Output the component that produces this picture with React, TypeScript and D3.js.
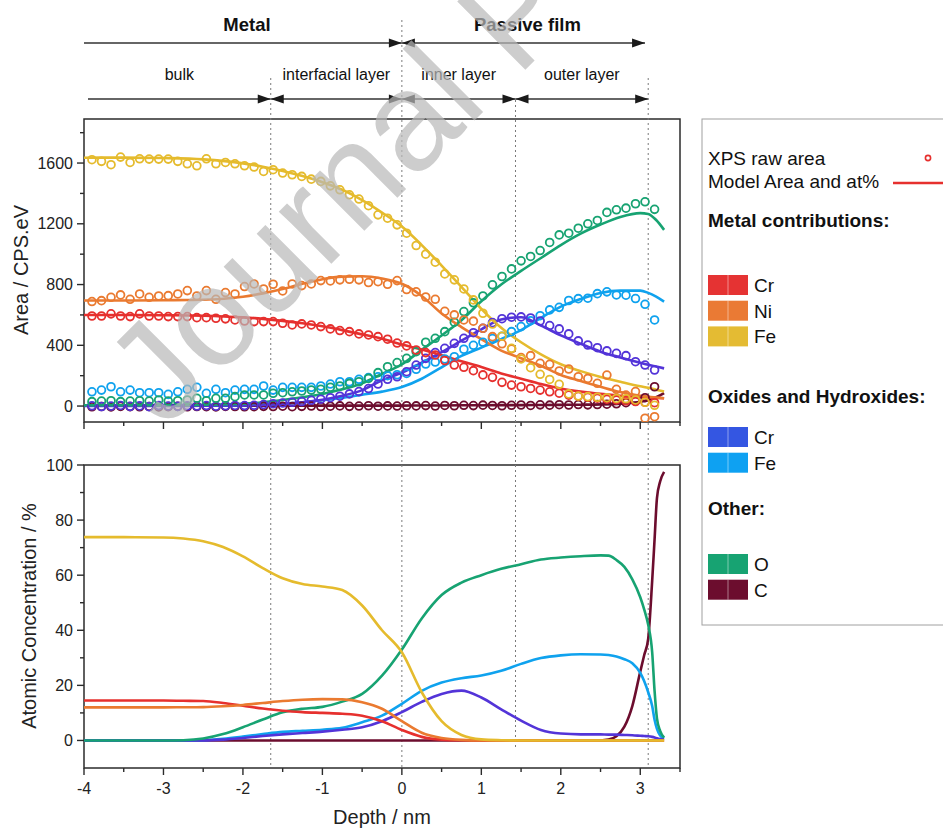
import React from 'react';
import * as d3 from 'd3';

// raw XPS areas, one point every 0.12 nm
const rawDepth = [
  -3.9, -3.78, -3.66, -3.54, -3.42, -3.3, -3.18, -3.06, -2.94, -2.82, -2.7, -2.58, -2.46, -2.34, -2.22,
  -2.1, -1.98, -1.86, -1.74, -1.62, -1.5, -1.38, -1.26, -1.14, -1.02, -0.9, -0.78, -0.66, -0.54, -0.42,
  -0.3, -0.18, -0.06, 0.06, 0.18, 0.3, 0.42, 0.54, 0.66, 0.78, 0.9, 1.02, 1.14, 1.26, 1.38,
  1.5, 1.62, 1.74, 1.86, 1.98, 2.1, 2.22, 2.34, 2.46, 2.58, 2.7, 2.82, 2.94, 3.06, 3.18,
];
const rawCrMetal = [
  593, 593, 607, 593, 589, 607, 593, 593, 589, 589, 589, 582, 582, 578, 574,
  567, 560, 556, 556, 556, 545, 534, 541, 534, 523, 508, 497, 490, 475, 468,
  457, 440, 415, 396, 369, 352, 336, 300, 270, 255, 233, 205, 189, 156, 138,
  127, 116, 105, 94, 85, 72, 65, 58, 52, 45, 40, 35, 30, 25, 22,
];
const rawNiMetal = [
  688, 694, 716, 732, 703, 738, 716, 725, 727, 738, 760, 725, 760, 703, 747,
  738, 787, 804, 771, 802, 758, 804, 793, 804, 826, 824, 831, 835, 831, 813,
  819, 802, 826, 767, 752, 718, 703, 624, 600, 567, 559, 512, 457, 410, 376,
  319, 332, 281, 275, 231, 244, 193, 182, 150, 204, 110, 72, 95, -80, -70,
];
const rawFeMetal = [
  1622, 1611, 1589, 1639, 1604, 1628, 1626, 1626, 1626, 1611, 1595, 1582, 1628, 1595, 1604,
  1595, 1582, 1574, 1545, 1556, 1534, 1523, 1512, 1494, 1479, 1450, 1424, 1391, 1363, 1319,
  1259, 1237, 1193, 1138, 1057, 1000, 947, 870, 831, 771, 699, 611, 540, 460, 380,
  310, 253, 209, 175, 143, 80, 66, 62, 58, 55, 50, 48, 40, 25, 5,
];
const rawCrOx = [
  2, -3, 0, 4, -2, 1, -4, 3, 0, -2, 2, 0, 3, -1, 2,
  4, 3, 5, 10, 15, 20, 25, 30, 38, 45, 55, 65, 80, 95, 115,
  145, 176, 193, 226, 270, 314, 352, 380, 413, 446, 483, 512, 549, 575, 585,
  587, 580, 560, 530, 508, 475, 429, 402, 384, 363, 347, 332, 292, 270, 237,
];
const rawFeOx = [
  94, 105, 127, 94, 105, 88, 88, 88, 77, 94, 110, 123, 84, 110, 88,
  105, 110, 110, 132, 105, 123, 123, 123, 123, 132, 145, 160, 160, 176, 187,
  193, 200, 206, 215, 242, 277, 290, 310, 325, 374, 400, 420, 445, 460, 490,
  523, 562, 595, 633, 650, 695, 707, 710, 740, 752, 732, 730, 708, 670, 567,
];
const rawO = [
  29, 33, 35, 29, 33, 35, 33, 40, 33, 35, 40, 51, 35, 51, 51,
  62, 73, 73, 73, 84, 88, 94, 99, 105, 110, 123, 132, 149, 160, 182,
  220, 259, 286, 314, 358, 420, 446, 490, 552, 622, 680, 725, 798, 853, 903,
  956, 985, 1024, 1077, 1127, 1138, 1171, 1200, 1222, 1275, 1292, 1303, 1332, 1345, 1295,
];
const rawC = [
  -5, -3, -6, -2, -4, -5, -3, -6, -4, -2, -5, -3, -4, -6, -2,
  -3, -5, -4, -2, -3, -1, -4, -2, 0, -3, -1, 1, -2, 0, 2,
  -1, 1, 0, 2, 1, 3, 0, 4, 2, 5, 3, 6, 4, 2, 5,
  7, 4, 8, 6, 9, 7, 10, 8, 10, 12, 15, 22, 32, 55, 127,
];

// model areas
const modelDepth = [-4, -3.5, -3, -2.5, -2, -1.75, -1.5, -1.25, -1, -0.75, -0.5, -0.25, 0, 0.25, 0.5, 0.75, 1, 1.25, 1.5, 1.75, 2, 2.25, 2.5, 2.75, 3, 3.1, 3.2, 3.3];
const modelCrMetal = [600, 600, 598, 595, 584, 574, 561, 545, 525, 500, 472, 443, 405, 372, 335, 295, 257, 215, 180, 145, 115, 95, 80, 68, 60, 57, 54, 51];
const modelNiMetal = [695, 695, 697, 700, 720, 742, 770, 805, 835, 852, 855, 840, 805, 725, 610, 520, 440, 365, 315, 265, 205, 165, 127, 92, 68, 62, 56, 51];
const modelFeMetal = [1635, 1636, 1633, 1624, 1598, 1576, 1548, 1514, 1474, 1424, 1356, 1274, 1182, 1060, 925, 785, 640, 515, 420, 340, 275, 230, 192, 160, 130, 120, 108, 96];
const modelCrOx = [0, 0, 1, 2, 5, 8, 15, 25, 42, 68, 105, 170, 220, 285, 355, 430, 505, 570, 585, 530, 465, 410, 358, 320, 285, 272, 260, 248];
const modelFeOx = [2, 2, 2, 3, 6, 10, 16, 25, 38, 55, 75, 95, 125, 180, 255, 330, 385, 440, 500, 580, 655, 705, 745, 760, 760, 745, 720, 688];
const modelO = [5, 5, 6, 8, 15, 25, 40, 58, 80, 110, 150, 212, 275, 370, 465, 565, 690, 800, 890, 975, 1060, 1135, 1195, 1245, 1270, 1265, 1225, 1160];
const modelC = [2, 2, 2, 2, 2, 2, 2, 2, 3, 3, 3, 3, 3, 4, 4, 5, 5, 6, 6, 7, 8, 9, 11, 16, 28, 40, 58, 85];

// atomic concentration (at%)
const concDepth = [-4, -3.5, -3, -2.75, -2.5, -2.25, -2, -1.75, -1.5, -1.25, -1, -0.75, -0.5, -0.25, 0, 0.25, 0.5, 0.75, 1, 1.25, 1.5, 1.75, 2, 2.25, 2.5, 2.6, 2.7, 2.8, 2.9, 3, 3.05, 3.1, 3.15, 3.18, 3.21, 3.25, 3.3];
const concCrMetal = [14.5, 14.5, 14.5, 14.4, 14.3, 13.6, 12.6, 11.6, 10.8, 10.3, 10, 9.7, 9, 7, 3.8, 1.3, 0.3, 0.05, 0, 0, 0, 0, 0, 0, 0, 0, 0, 0, 0, 0, 0, 0, 0, 0, 0, 0, 0];
const concNiMetal = [12, 12, 12, 12.05, 12.1, 12.4, 12.9, 13.6, 14.3, 14.8, 15, 14.9, 13.9, 11.5, 7, 2.8, 0.9, 0.2, 0, 0, 0, 0, 0, 0, 0, 0, 0, 0, 0, 0, 0, 0, 0, 0, 0, 0, 0];
const concFeMetal = [73.8, 73.8, 73.7, 73.3, 72.3, 70.2, 66.8, 62.6, 58.9, 56.8, 55.9, 54.6, 49, 40, 32, 17.5, 7, 2, 0.4, 0.1, 0, 0, 0, 0, 0, 0, 0, 0, 0, 0, 0, 0, 0, 0, 0, 0, 0];
const concCrOx = [0, 0, 0, 0, 0, 0.3, 0.9, 1.6, 2.2, 2.7, 3.2, 3.9, 4.8, 7, 10.3, 14, 16.9, 18.1, 15.6, 11.3, 7.2, 3.8, 2.5, 2.2, 2.2, 2.1, 2.1, 2, 1.9, 1.7, 1.6, 1.5, 1.3, 1.1, 0.8, 0.5, 0.3];
const concFeOx = [0, 0, 0, 0, 0.1, 0.6, 1.4, 2.3, 3.1, 3.5, 3.9, 4.6, 6.6, 9, 13.3, 18, 21, 22.6, 23.6, 25.3, 27.8, 29.9, 30.9, 31.3, 31.2, 31, 30.5, 29.5, 28, 24.5, 21.5, 17.5, 12.5, 7.5, 4.2, 1.8, 0.8];
const concO = [0, 0, 0, 0.1, 0.7, 2.3, 4.8, 7.6, 10.2, 11.5, 12.2, 14.1, 16.9, 23.5, 33, 44.3, 52.8, 57.3, 60, 62.3, 64, 65.7, 66.4, 66.9, 67.2, 67.1, 65.5, 63, 58.5, 52, 47.5, 42, 32, 18, 8, 3.5, 1];
const concC = [0, 0, 0, 0, 0, 0, 0, 0, 0, 0, 0, 0, 0, 0, 0, 0, 0, 0, 0, 0, 0, 0, 0, 0, 0, 0.3, 1.5, 5, 12.5, 25, 31, 37, 58, 73, 88, 94, 97.5];

const xTicks = [-4, -3, -2, -1, 0, 1, 2, 3];
const xMinor = [-3.5, -2.5, -1.5, -0.5, 0.5, 1.5, 2.5, 3.5];
const areaTicks = [0, 400, 800, 1200, 1600];
const areaMinor = [200, 600, 1000, 1400, 1800];
const concTicks = [0, 20, 40, 60, 80, 100];
const concMinor = [10, 30, 50, 70, 90];

// layer boundaries (nm) and header arrows
const layerBounds = [-1.65, 0, 1.43, 3.1];
const zones = [
  { label: 'Metal', from: -4, to: 0, row: 0, headL: false },
  { label: 'Passive film', from: 0, to: 3.06, row: 0, headL: true },
  { label: 'bulk', from: -3.95, to: -1.65, row: 1, headL: false },
  { label: 'interfacial layer', from: -1.65, to: 0, row: 1, headL: true },
  { label: 'inner layer', from: 0, to: 1.43, row: 1, headL: true },
  { label: 'outer layer', from: 1.43, to: 3.1, row: 1, headL: true },
];

const series = [
  { key: 'C', label: 'C', color: '#6c0d2e', swatch: '#6c0d2e', raw: rawC, model: modelC, conc: concC },
  { key: 'FeOx', label: 'Fe', color: '#0fa2ee', swatch: '#0ea1f2', raw: rawFeOx, model: modelFeOx, conc: concFeOx },
  { key: 'CrOx', label: 'Cr', color: '#5334d8', swatch: '#3456e2', raw: rawCrOx, model: modelCrOx, conc: concCrOx },
  { key: 'O', label: 'O', color: '#17a372', swatch: '#17a372', raw: rawO, model: modelO, conc: concO },
  { key: 'Cr', label: 'Cr', color: '#e6302e', swatch: '#e53333', raw: rawCrMetal, model: modelCrMetal, conc: concCrMetal },
  { key: 'Ni', label: 'Ni', color: '#ea7a30', swatch: '#ea7a34', raw: rawNiMetal, model: modelNiMetal, conc: concNiMetal },
  { key: 'Fe', label: 'Fe', color: '#e5bb2d', swatch: '#e4bb33', raw: rawFeMetal, model: modelFeMetal, conc: concFeMetal },
];

const legendGroups = [
  { title: 'Metal contributions:', titleY: 227, keys: ['Cr', 'Ni', 'Fe'], top: 275 },
  { title: 'Oxides and Hydroxides:', titleY: 403, keys: ['CrOx', 'FeOx'], top: 427 },
  { title: 'Other:', titleY: 515, keys: ['O', 'C'], top: 554 },
];

const FONT = "'Liberation Sans', Arial, Helvetica, sans-serif";
const AXIS = '#2b2b2b';

const Arrow = ({ x1, x2, y, headL, headR }: any) => {
  const L = 13, h = 4.6;
  return (
    <g fill="#1a1a1a">
      <line x1={x1} x2={x2} y1={y} y2={y} stroke="#333" strokeWidth={1.4} />
      {headR && <polygon points={`${x2},${y} ${x2 - L},${y - h} ${x2 - L},${y + h}`} />}
      {headL && <polygon points={`${x1},${y} ${x1 + L},${y - h} ${x1 + L},${y + h}`} />}
    </g>
  );
};

export default function App() {
  const left = 84, right = 680;
  const x = d3.scaleLinear().domain([-4, 3.5]).range([left, right]);
  const yA = d3.scaleLinear().domain([-105, 1890]).range([422, 119]);
  const yC = d3.scaleLinear().domain([-10, 100]).range([768, 465]);

  const modelLine = d3.line<number>()
    .x((_, i) => x(modelDepth[i]))
    .y((d) => yA(d))
    .curve(d3.curveMonotoneX);
  const concLine = d3.line<number>()
    .x((_, i) => x(concDepth[i]))
    .y((d) => yC(d))
    .curve(d3.curveMonotoneX);

  const byKey: any = {};
  series.forEach((s) => (byKey[s.key] = s));

  const panel = (top: number, bottom: number, y: any, ticks: number[], minor: number[], showX: boolean) => (
    <g>
      <rect x={left} y={top} width={right - left} height={bottom - top} fill="none" stroke={AXIS} strokeWidth={1.5} />
      {xTicks.map((t) => (
        <line key={'xt' + t} x1={x(t)} x2={x(t)} y1={bottom} y2={bottom + 7} stroke={AXIS} strokeWidth={1.4} />
      ))}
      {xMinor.map((t) => (
        <line key={'xm' + t} x1={x(t)} x2={x(t)} y1={bottom} y2={bottom + 4} stroke={AXIS} strokeWidth={1.4} />
      ))}
      {showX && xTicks.map((t) => (
        <text key={'xl' + t} x={x(t)} y={bottom + 26} fontSize={16} textAnchor="middle" fill="#222">{t}</text>
      ))}
      {ticks.map((t) => (
        <g key={'yt' + t}>
          <line x1={left - 7} x2={left} y1={y(t)} y2={y(t)} stroke={AXIS} strokeWidth={1.4} />
          <text x={left - 11} y={y(t) + 5.6} fontSize={16} textAnchor="end" fill="#222">{t}</text>
        </g>
      ))}
      {minor.map((t) => (
        <line key={'ym' + t} x1={left - 4} x2={left} y1={y(t)} y2={y(t)} stroke={AXIS} strokeWidth={1.4} />
      ))}
    </g>
  );

  const boundTop = [78, 20, 100, 78];
  const boundBottom = [768, 768, 748, 766];

  return (
    <svg width={943} height={828} style={{ position: 'absolute', left: 0, top: 0, background: '#fff' }} fontFamily={FONT}>
      <defs>
        <clipPath id="clipA"><rect x={left} y={119} width={right - left} height={303} /></clipPath>
        <clipPath id="clipC"><rect x={left} y={465} width={right - left} height={303} /></clipPath>
        <clipPath id="clipPage"><rect x={0} y={0} width={943} height={828} /></clipPath>
      </defs>

      {/* header zones */}
      {zones.map((z) => {
        const yRow = z.row === 0 ? 43 : 99;
        return (
          <g key={z.label}>
            <Arrow x1={x(z.from)} x2={x(z.to)} y={yRow} headL={z.headL} headR={true} />
            <text
              x={(x(z.from) + x(z.to)) / 2 + (z.row === 0 ? 4 : 0)}
              y={z.row === 0 ? 31 : 80}
              fontSize={z.row === 0 ? 18.5 : 16}
              fontWeight={z.row === 0 ? 'bold' : 'normal'}
              textAnchor="middle"
              fill="#111"
            >
              {z.label}
            </text>
          </g>
        );
      })}

      {panel(119, 422, yA, areaTicks, areaMinor, false)}
      {panel(465, 768, yC, concTicks, concMinor, true)}

      {/* layer boundaries */}
      {layerBounds.map((b, i) => (
        <line key={'b' + b} x1={x(b)} x2={x(b)} y1={boundTop[i]} y2={boundBottom[i]} stroke="#7a7a7a" strokeWidth={1} strokeDasharray="2,3" />
      ))}

      {/* top panel: model lines and raw points */}
      <g clipPath="url(#clipA)">
        {series.map((s) => (
          <path key={'m' + s.key} d={modelLine(s.model) || ''} fill="none" stroke={s.color} strokeWidth={2.6} />
        ))}
        {series.map((s) => (
          <g key={'r' + s.key}>
            {s.raw.map((v, i) => (
              <circle key={i} cx={x(rawDepth[i])} cy={yA(v)} r={3.9} fill="none" stroke={s.color} strokeWidth={1.8} />
            ))}
          </g>
        ))}
      </g>

      {/* bottom panel: atomic concentration */}
      <g clipPath="url(#clipC)">
        {series.map((s) => (
          <path key={'c' + s.key} d={concLine(s.conc) || ''} fill="none" stroke={s.color} strokeWidth={2.6} />
        ))}
      </g>

      {/* axis titles */}
      <text transform="translate(28,270) rotate(-90)" fontSize={20} textAnchor="middle" fill="#222">Area / CPS.eV</text>
      <text transform="translate(36,616) rotate(-90)" fontSize={20} textAnchor="middle" fill="#222">Atomic Concentration / %</text>
      <text x={(left + right) / 2} y={824} fontSize={20} textAnchor="middle" fill="#222">Depth / nm</text>

      {/* legend */}
      <g fontSize={19} fill="#111">
        <rect x={702} y={119} width={260} height={506} fill="#fff" stroke="#a0a0a0" strokeWidth={1} />
        <text x={708} y={165}>XPS raw area</text>
        <circle cx={928} cy={158} r={2.6} fill="none" stroke="#e6302e" strokeWidth={1.6} />
        <text x={708} y={188}>Model Area and at%</text>
        <line x1={893} x2={950} y1={183} y2={183} stroke="#e6302e" strokeWidth={2.4} />
        {legendGroups.map((g) => (
          <g key={g.title}>
            <text x={708} y={g.titleY} fontWeight="bold">{g.title}</text>
            {g.keys.map((k, i) => {
              const s = byKey[k];
              const top = g.top + i * 25.7;
              return (
                <g key={k}>
                  <rect x={708} y={top} width={40} height={20} fill={s.swatch} />
                  <line x1={728} x2={728} y1={top} y2={top + 20} stroke="#ffffff" strokeOpacity={0.45} strokeWidth={1} />
                  <text x={754} y={top + 17}>{s.label}</text>
                </g>
              );
            })}
          </g>
        ))}
      </g>

      {/* journal watermark */}
      <g clipPath="url(#clipPage)">
        <text
          transform="translate(165,430) rotate(-45)"
          fontSize={140}
          fill="#b8b8b8"
          fillOpacity={0.7}
        >
          Journal P
        </text>
      </g>
    </svg>
  );
}
